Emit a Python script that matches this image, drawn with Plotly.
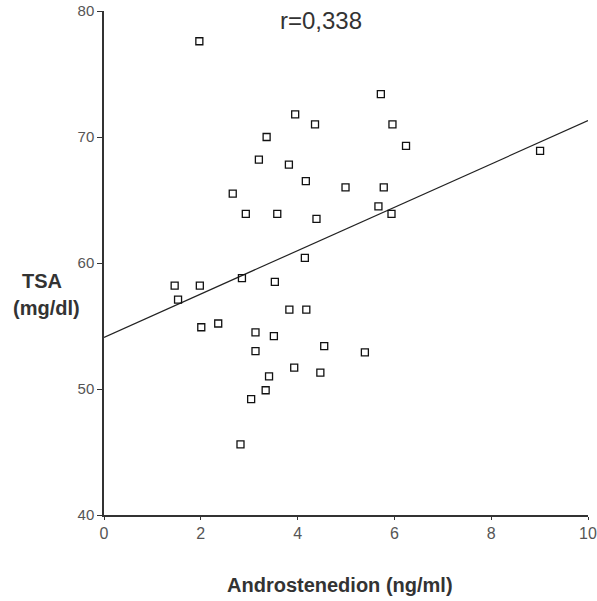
import plotly.graph_objects as go

# Androstenedion (ng/ml) vs TSA (mg/dl)
andro = [1.97, 3.95, 4.36, 3.36, 3.20, 3.82, 4.17, 2.66, 2.93, 3.58, 4.39, 4.15,
         5.72, 5.96, 6.24, 9.01, 4.99, 5.78, 5.67, 5.94,
         1.46, 1.98, 2.85, 3.53, 1.53, 3.83, 4.18, 2.01, 2.36, 3.13, 3.51, 3.13,
         4.55, 3.93, 4.47, 3.41, 3.34, 3.04, 2.82, 5.39]
tsa = [77.6, 71.8, 71.0, 70.0, 68.2, 67.8, 66.5, 65.5, 63.9, 63.9, 63.5, 60.4,
       73.4, 71.0, 69.3, 68.9, 66.0, 66.0, 64.5, 63.9,
       58.2, 58.2, 58.8, 58.5, 57.1, 56.3, 56.3, 54.9, 55.2, 54.5, 54.2, 53.0,
       53.4, 51.7, 51.3, 51.0, 49.9, 49.2, 45.6, 52.9]

# regression line end points
line_x = [0, 10]
line_y = [54.1, 71.3]

x_ticks = [0, 2, 4, 6, 8, 10]
y_ticks = [40, 50, 60, 70, 80]

fig = go.Figure()
fig.add_trace(go.Scatter(
    x=line_x, y=line_y, mode="lines",
    line=dict(color="#222222", width=1.2),
    hoverinfo="skip", showlegend=False))
fig.add_trace(go.Scatter(
    x=andro, y=tsa, mode="markers",
    marker=dict(symbol="square-open", size=7, color="#111111",
                line=dict(width=1.3, color="#111111")),
    showlegend=False))

fig.update_xaxes(range=[0, 10], tickvals=x_ticks, showgrid=False, zeroline=False,
                 showline=True, linecolor="#333333", linewidth=1.5,
                 ticks="outside", ticklen=3, tickcolor="#333333",
                 tickfont=dict(family="Liberation Sans, Arial, sans-serif", size=16, color="#555555"),
                 ticklabeloverflow="allow", automargin=False)
fig.update_yaxes(range=[40, 80], tickvals=y_ticks, showgrid=False, zeroline=False,
                 showline=True, linecolor="#333333", linewidth=1.5,
                 ticks="outside", ticklen=5, tickcolor="#333333",
                 tickfont=dict(family="Liberation Sans, Arial, sans-serif", size=15, color="#555555"),
                 ticklabeloverflow="allow", automargin=False)

titlefont = dict(family="Liberation Sans, Arial, sans-serif", size=20, color="#333333")
fig.update_layout(
    width=597, height=601,
    margin=dict(l=104, r=9, t=11, b=86, autoexpand=False),
    paper_bgcolor="white", plot_bgcolor="white",
    annotations=[
        dict(text="<b>TSA</b>", xref="paper", yref="paper", x=0, y=0.464,
             xshift=-62, xanchor="center", yanchor="middle", showarrow=False, font=titlefont),
        dict(text="<b>(mg/dl)</b>", xref="paper", yref="paper", x=0, y=0.411,
             xshift=-58, xanchor="center", yanchor="middle", showarrow=False, font=titlefont),
        dict(text="<b>Androstenedion (ng/ml)</b>", xref="paper", yref="paper", x=0.488, y=-0.139,
             xanchor="center", yanchor="middle", showarrow=False, font=titlefont),
        dict(text="r=0,338", xref="paper", yref="paper", x=0.449, y=0.982,
             xanchor="center", yanchor="middle", showarrow=False,
             font=dict(family="Liberation Sans Narrow, Arial Narrow, sans-serif", size=24, color="#333333")),
    ],
)

fig.write_html("out.html",
               config={"displayModeBar": False},
               post_script="document.body.style.margin='0';document.body.style.overflow='hidden';")
